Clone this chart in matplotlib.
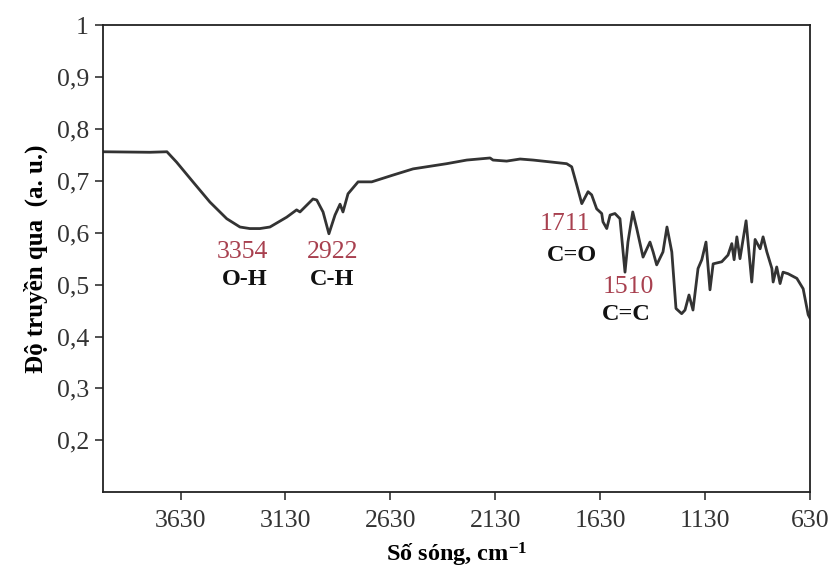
import matplotlib
matplotlib.use("Agg")
import matplotlib.pyplot as plt
from matplotlib.ticker import FuncFormatter

plt.rcParams['font.family'] = ['Liberation Serif', 'DejaVu Serif']
plt.rcParams['mathtext.fontset'] = 'custom'
plt.rcParams['mathtext.rm'] = 'Liberation Serif:bold'
plt.rcParams['mathtext.it'] = 'Liberation Serif:bold'
plt.rcParams['mathtext.bf'] = 'Liberation Serif:bold'

# số sóng (cm-1) va do truyen qua, doc tu hinh
wavenumber = [4000, 3776, 3695, 3649, 3571, 3490, 3410, 3347, 3300, 3252, 3204,
              3124, 3077, 3061, 2999, 2981, 2951, 2923, 2894, 2870, 2856,
              2832, 2784, 2719, 2618, 2522, 2362, 2266, 2155, 2141, 2076,
              2012, 1950, 1790, 1766, 1742, 1718, 1688, 1671, 1647, 1623,
              1617, 1599, 1583, 1560, 1536, 1512, 1498, 1475, 1456, 1426,
              1393, 1378, 1361, 1331, 1312, 1289, 1269, 1242, 1226, 1207,
              1188, 1164, 1146, 1126, 1107, 1092, 1051, 1021, 1003, 992,
              979, 964, 935, 908, 892, 868, 854, 836, 812, 806,
              789, 773, 759, 735, 693, 663, 639, 630]
transmit = [0.756, 0.755, 0.756, 0.736, 0.698, 0.659, 0.627, 0.611, 0.608, 0.608, 0.611,
            0.630, 0.644, 0.640, 0.665, 0.663, 0.640, 0.598, 0.634, 0.655, 0.640,
            0.675, 0.698, 0.698, 0.711, 0.723, 0.733, 0.740, 0.744, 0.740, 0.738,
            0.742, 0.740, 0.733, 0.727, 0.692, 0.656, 0.679, 0.673, 0.646, 0.637,
            0.621, 0.608, 0.634, 0.637, 0.627, 0.524, 0.582, 0.640, 0.608, 0.553,
            0.582, 0.563, 0.538, 0.563, 0.611, 0.563, 0.454, 0.444, 0.451, 0.480,
            0.451, 0.531, 0.548, 0.582, 0.490, 0.540, 0.544, 0.557, 0.579, 0.548,
            0.592, 0.550, 0.623, 0.505, 0.587, 0.569, 0.592, 0.563, 0.531, 0.505,
            0.534, 0.502, 0.524, 0.521, 0.512, 0.492, 0.442, 0.435]

xticks = [3630, 3130, 2630, 2130, 1630, 1130, 630]
yticks = [0.2, 0.3, 0.4, 0.5, 0.6, 0.7, 0.8, 0.9, 1.0]

# cac dinh: so song, nhom chuc, vi tri chu
peak_nums = ['3354', '2922', '1711', '1510']
peak_groups = ['O-H', 'C-H', 'C=O', 'C=C']
num_pos = [(3333, 0.563), (2904, 0.563), (1798, 0.617), (1498, 0.496)]
grp_pos = [(3323, 0.509), (2909, 0.509), (1766, 0.557), (1507, 0.442)]

fig = plt.figure(figsize=(8.3, 5.71), dpi=100)
ax = fig.add_axes([0.124, 0.138, 0.852, 0.818])

ax.plot(wavenumber, transmit, color='#333333', lw=2.0, solid_joinstyle='round')

ax.set_xlim(4000, 630)
ax.set_ylim(0.1, 1.0)
ax.set_xticks(xticks)
ax.set_yticks(yticks)

def fmt(v, pos):
    if abs(v - 1) < 1e-6:
        return '1'
    return ('%.1f' % v).replace('.', ',')

ax.yaxis.set_major_formatter(FuncFormatter(fmt))
ax.tick_params(axis='both', direction='out', length=6, width=1.2,
               labelsize=18.5, colors='#333333')
ax.tick_params(axis='y', pad=4)
ax.tick_params(axis='x', pad=7)
for s in ax.spines.values():
    s.set_linewidth(1.3)
    s.set_color('#222222')

for t, (x, y) in zip(peak_nums, num_pos):
    ax.text(x, y, t, ha='center', va='center', fontsize=18.5, color='#a8404f')
for t, (x, y) in zip(peak_groups, grp_pos):
    ax.text(x, y, t, ha='center', va='center', fontsize=17.5,
            fontweight='bold', color='#111111')

ax.set_xlabel('Số sóng, cm$^{-1}$', fontsize=17.5, fontweight='bold', labelpad=6)
ax.set_ylabel('Độ truyền qua  (a. u.)', fontsize=18, fontweight='bold', labelpad=6)

fig.savefig('out.png', dpi=100)
